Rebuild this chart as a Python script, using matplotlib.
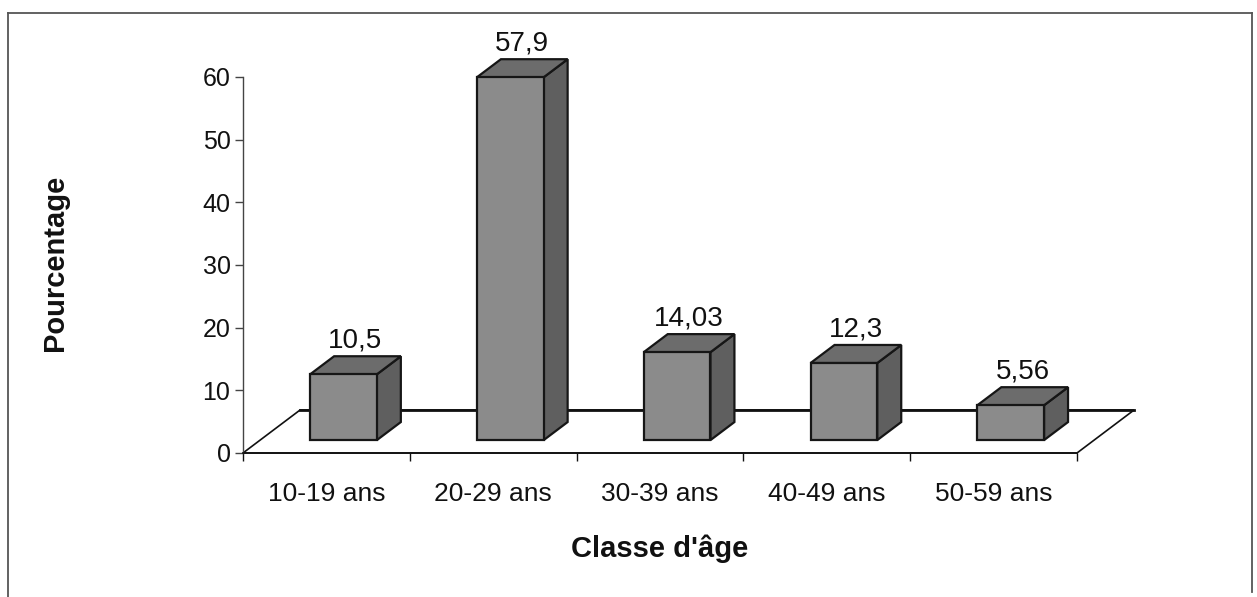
import matplotlib
matplotlib.use("Agg")
import matplotlib.pyplot as plt
from matplotlib.patches import Polygon
from matplotlib.lines import Line2D

plt.rcParams["font.family"] = ["Liberation Sans", "DejaVu Sans"]

categories = ["10-19 ans", "20-29 ans", "30-39 ans", "40-49 ans", "50-59 ans"]
values = [10.5, 57.9, 14.03, 12.3, 5.56]
value_labels = ["10,5", "57,9", "14,03", "12,3", "5,56"]
yticks = [0, 10, 20, 30, 40, 50, 60]

W, H = 1257, 597
fig = plt.figure(figsize=(W / 100, H / 100), dpi=100)
fig.patch.set_facecolor("white")

# axes: x in category units (0..5), y in percent (0..60)
ax = fig.add_axes([243 / W, (H - 453) / H, (1077 - 243) / W, (453 - 77) / H])
ax.set_xlim(0, len(categories))
ax.set_ylim(0, 60)
ax.patch.set_alpha(0)

# oblique depth of the floor, in data units
floor_dx = 0.342
floor_dy = 6.86
f_front, f_back = 0.30, 0.72
bar_w = 0.40

# floor parallelogram
floor = Polygon([(0, 0), (len(categories), 0),
                 (len(categories) + floor_dx, floor_dy), (floor_dx, floor_dy)],
                closed=True, facecolor="white", edgecolor="#111111",
                linewidth=1.2, clip_on=False, zorder=1)
ax.add_patch(floor)
ax.plot([floor_dx, len(categories) + floor_dx], [floor_dy, floor_dy],
        color="#111111", lw=2.0, clip_on=False, zorder=1.5)

front_col = "#8b8b8b"
top_col = "#6c6c6c"
side_col = "#5f5f5f"
edge_col = "#161616"

ddx = (f_back - f_front) * floor_dx
ddy = (f_back - f_front) * floor_dy
base = f_front * floor_dy

for i, (v, lab) in enumerate(zip(values, value_labels)):
    xl = i + 0.5 - bar_w / 2 + f_front * floor_dx
    xr = xl + bar_w
    top = base + v
    side = Polygon([(xr, base), (xr, top), (xr + ddx, top + ddy), (xr + ddx, base + ddy)],
                   closed=True, facecolor=side_col, edgecolor=edge_col, lw=1.6,
                   clip_on=False, zorder=3)
    topf = Polygon([(xl, top), (xr, top), (xr + ddx, top + ddy), (xl + ddx, top + ddy)],
                   closed=True, facecolor=top_col, edgecolor=edge_col, lw=1.6,
                   clip_on=False, zorder=3)
    front = Polygon([(xl, base), (xr, base), (xr, top), (xl, top)],
                    closed=True, facecolor=front_col, edgecolor=edge_col, lw=1.6,
                    clip_on=False, zorder=4)
    for p in (side, topf, front):
        ax.add_patch(p)
    ax.annotate(lab, xy=((xl + xr) / 2 + ddx / 2, top + ddy), xytext=(0, 2),
                textcoords="offset points", ha="center", va="bottom",
                fontsize=20, color="#111111", annotation_clip=False, zorder=5)

# value axis
for s in ("top", "right"):
    ax.spines[s].set_visible(False)
ax.spines["left"].set_color("#444444")
ax.spines["left"].set_linewidth(1.0)
ax.spines["bottom"].set_color("#111111")
ax.spines["bottom"].set_linewidth(1.2)
ax.set_yticks(yticks)
ax.set_yticklabels([str(t) for t in yticks])
ax.tick_params(axis="y", direction="out", length=6, width=1.0, color="#444444",
               pad=3, labelsize=18, labelcolor="#111111")

# category axis: boundary ticks, centred labels
ax.set_xticks(range(len(categories) + 1))
ax.set_xticklabels([])
ax.set_xticks([i + 0.5 for i in range(len(categories))], minor=True)
ax.set_xticklabels(categories, minor=True)
ax.tick_params(axis="x", which="major", direction="out", length=6, width=1.0,
               color="#111111")
ax.tick_params(axis="x", which="minor", length=0, pad=21, labelsize=19,
               labelcolor="#111111")

fig.text(660 / W, 1 - 549 / H, "Classe d'âge", ha="center", va="center",
         fontsize=21, fontweight="bold", color="#111111")
fig.text(55 / W, 1 - 263 / H, "Pourcentage", ha="center", va="center",
         rotation=90, fontsize=21, fontweight="bold", color="#111111")

# chart frame
frame_kw = dict(color="#555555", lw=1.3, transform=fig.transFigure)
fig.add_artist(Line2D([8 / W, 1252 / W], [1 - 13 / H, 1 - 13 / H], **frame_kw))
fig.add_artist(Line2D([8 / W, 8 / W], [1 - 13 / H, 0], **frame_kw))
fig.add_artist(Line2D([1252 / W, 1252 / W], [1 - 13 / H, 1 - 592 / H], **frame_kw))

fig.savefig("out.png", dpi=100)
